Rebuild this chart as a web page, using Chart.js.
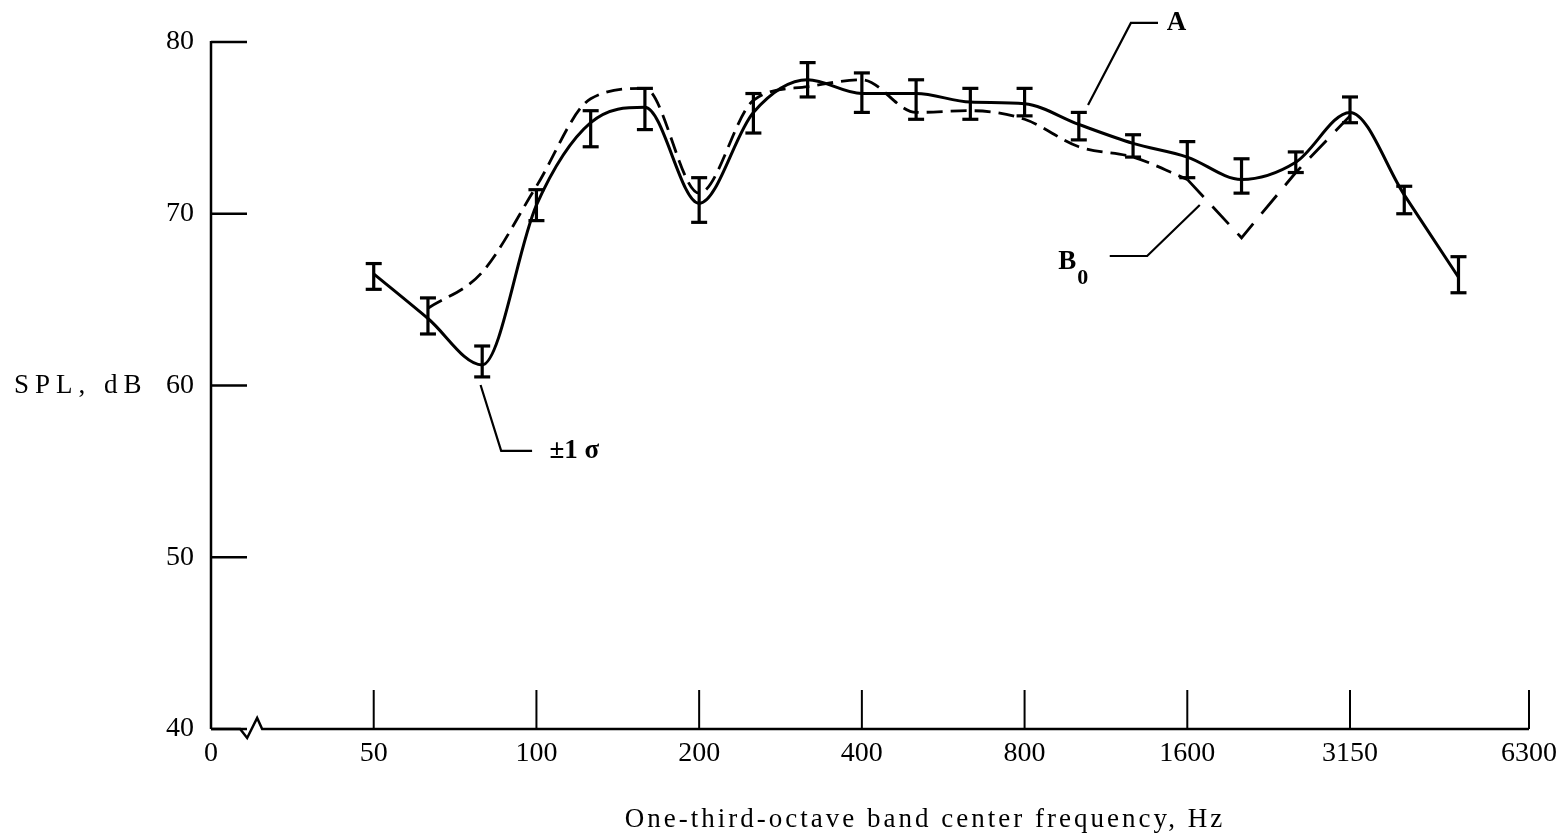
<!DOCTYPE html>
<html>
<head>
<meta charset="utf-8">
<script src="https://cdn.jsdelivr.net/npm/chart.js@4"></script>
<style>
  html, body { margin: 0; padding: 0; background: #fff; }
  canvas { display: block; }
</style>
</head>
<body>
<canvas id="chart" width="1565" height="838"></canvas>
<script>
// One-third-octave bands (x position = band index, 50 Hz = 0)
const bands = ['50', '63', '80', '100', '125', '160', '200', '250', '315', '400', '500',
  '630', '800', '1000', '1250', '1600', '2000', '2500', '3150', '4000', '5000'];

// Curve A (mean SPL, dB) and its +/-1 sigma limits
const splA    = [66.5, 63.9, 61.2, 70.5, 75.3, 76.2, 70.6, 75.9, 77.8, 77.0, 77.0, 76.5, 76.4, 75.2, 74.1, 73.3, 72.0, 73.0, 75.9, 71.1, 66.3];
const sigmaHi = [67.1, 65.1, 62.3, 71.4, 76.0, 77.3, 72.1, 77.0, 78.8, 78.2, 77.8, 77.3, 77.3, 75.9, 74.6, 74.2, 73.2, 73.6, 76.8, 71.6, 67.5];
const sigmaLo = [65.6, 63.0, 60.5, 69.6, 73.9, 74.9, 69.5, 74.7, 76.8, 75.9, 75.5, 75.5, 75.7, 74.3, 73.3, 72.1, 71.2, 72.4, 75.3, 70.0, 65.4];

// Curve B0 (dashed)
const splB0 = [null, 64.5, 66.6, 71.6, 76.7, 77.3, 71.2, 76.6, 77.4, 77.8, 75.9, 76.0, 75.5, 73.9, 73.3, 72.0, 68.6, 72.4, 75.7, null, null];
const b0DipStart = 15; // from 1600 Hz on, B0 is drawn as straight long dashes

// Axis ticks
const xTickValues = [-3, 0, 3, 6, 9, 12, 15, 18, 21.3];
const xTickLabels = ['0', '50', '100', '200', '400', '800', '1600', '3150', '6300'];
const yTickValues = [40, 50, 60, 70, 80];
const xBreak = -2.26;

// Leader lines and labels (in data units)
const notes = [
  { path: [[13.17, 76.33], [13.96, 81.11], [14.46, 81.11]], text: 'A', at: [14.62, 81.11] },
  { path: [[15.23, 70.51], [14.26, 67.54], [13.57, 67.54]], text: 'B', sub: '0', at: [12.62, 67.2] },
  { path: [[1.97, 60.03], [2.35, 56.19], [2.92, 56.19]], text: '\u00b11 \u03c3', at: [3.24, 56.19] }
];

const FONT = "'Liberation Serif', 'DejaVu Serif', serif";

function toPoints(values, from, to) {
  const pts = [];
  for (let i = from; i <= to; i++) {
    if (values[i] !== null) pts.push({ x: i, y: values[i] });
  }
  return pts;
}

function line(ctx, x1, y1, x2, y2) {
  ctx.beginPath();
  ctx.moveTo(x1, y1);
  ctx.lineTo(x2, y2);
  ctx.stroke();
}

// Axes, error bars, labels
const decor = {
  id: 'decor',
  beforeDraw(chart) {
    const ctx = chart.ctx;
    ctx.save();
    ctx.fillStyle = '#fff';
    ctx.fillRect(0, 0, chart.width, chart.height);
    ctx.restore();
  },
  afterDraw(chart) {
    const { ctx, chartArea: a, scales: { x, y } } = chart;
    ctx.save();
    ctx.strokeStyle = '#000';
    ctx.fillStyle = '#000';
    ctx.lineCap = 'butt';

    // y axis + inside ticks
    ctx.lineWidth = 2.5;
    line(ctx, a.left, a.top - 1, a.left, a.bottom);
    yTickValues.forEach(v => {
      const py = y.getPixelForValue(v);
      line(ctx, a.left, py, a.left + 36, py);
    });

    // x axis with break symbol
    const bx = x.getPixelForValue(xBreak);
    ctx.beginPath();
    ctx.moveTo(a.left, a.bottom);
    ctx.lineTo(bx - 11, a.bottom);
    ctx.lineTo(bx - 4, a.bottom + 9);
    ctx.lineTo(bx + 6, a.bottom - 11);
    ctx.lineTo(bx + 11, a.bottom);
    ctx.lineTo(a.right, a.bottom);
    ctx.stroke();
    ctx.lineWidth = 2;
    xTickValues.slice(1).forEach(v => {
      const px = x.getPixelForValue(v);
      line(ctx, px, a.bottom, px, a.bottom - 39);
    });

    // +/- 1 sigma error bars
    ctx.lineWidth = 3.2;
    bands.forEach((b, i) => {
      const px = x.getPixelForValue(i);
      const yh = y.getPixelForValue(sigmaHi[i]);
      const yl = y.getPixelForValue(sigmaLo[i]);
      line(ctx, px, yh, px, yl);
      line(ctx, px - 8, yh, px + 8, yh);
      line(ctx, px - 8, yl, px + 8, yl);
    });

    // leader lines and labels
    ctx.lineWidth = 2.2;
    ctx.textBaseline = 'middle';
    ctx.textAlign = 'left';
    notes.forEach(n => {
      ctx.beginPath();
      n.path.forEach((p, k) => {
        const px = x.getPixelForValue(p[0]);
        const py = y.getPixelForValue(p[1]);
        if (k === 0) ctx.moveTo(px, py); else ctx.lineTo(px, py);
      });
      ctx.stroke();
      const tx = x.getPixelForValue(n.at[0]);
      const ty = y.getPixelForValue(n.at[1]);
      ctx.font = 'bold 27px ' + FONT;
      ctx.fillText(n.text, tx, ty);
      if (n.sub) {
        const w = ctx.measureText(n.text).width;
        ctx.font = 'bold 22px ' + FONT;
        ctx.fillText(n.sub, tx + w + 1, ty + 16);
      }
    });

    // axis titles
    ctx.font = '27px ' + FONT;
    ctx.textAlign = 'left';
    ctx.letterSpacing = '6px';
    ctx.fillText('SPL, dB', 14, y.getPixelForValue(60));
    ctx.letterSpacing = '3px';
    ctx.textAlign = 'center';
    ctx.fillText('One-third-octave band center frequency, Hz', 925, 820);
    ctx.restore();
  }
};

const chart = new Chart(document.getElementById('chart'), {
  type: 'line',
  data: {
    datasets: [
      {
        label: 'A',
        data: toPoints(splA, 0, splA.length - 1),
        borderColor: '#000',
        borderWidth: 3,
        pointRadius: 0,
        cubicInterpolationMode: 'monotone',
        fill: false
      },
      {
        label: 'B0',
        data: toPoints(splB0, 0, b0DipStart),
        borderColor: '#000',
        borderWidth: 2.8,
        borderDash: [16, 8],
        pointRadius: 0,
        cubicInterpolationMode: 'monotone',
        fill: false
      },
      {
        label: 'B0 dip',
        data: toPoints(splB0, b0DipStart, splB0.length - 1),
        borderColor: '#000',
        borderWidth: 2.8,
        borderDash: [24, 13],
        pointRadius: 0,
        tension: 0,
        fill: false
      }
    ]
  },
  options: {
    responsive: false,
    animation: false,
    devicePixelRatio: 1,
    layout: { padding: { left: 0, right: 33, top: 42, bottom: 0 } },
    plugins: { legend: { display: false }, tooltip: { enabled: false } },
    scales: {
      x: {
        type: 'linear',
        min: xTickValues[0],
        max: xTickValues[xTickValues.length - 1],
        grid: { display: false, drawTicks: false },
        border: { display: false },
        afterBuildTicks: scale => { scale.ticks = xTickValues.map(v => ({ value: v })); },
        afterFit: scale => { scale.height = 109; },
        ticks: {
          autoSkip: false,
          maxRotation: 0,
          padding: 8,
          color: '#000',
          font: { family: FONT, size: 28 },
          callback: v => xTickLabels[xTickValues.indexOf(v)]
        }
      },
      y: {
        min: 40,
        max: 80,
        grid: { display: false, drawTicks: false },
        border: { display: false },
        afterBuildTicks: scale => { scale.ticks = yTickValues.map(v => ({ value: v })); },
        afterFit: scale => { scale.width = 211; },
        ticks: {
          padding: 17,
          color: '#000',
          font: { family: FONT, size: 28 }
        }
      }
    }
  },
  plugins: [decor]
});
</script>
</body>
</html>
